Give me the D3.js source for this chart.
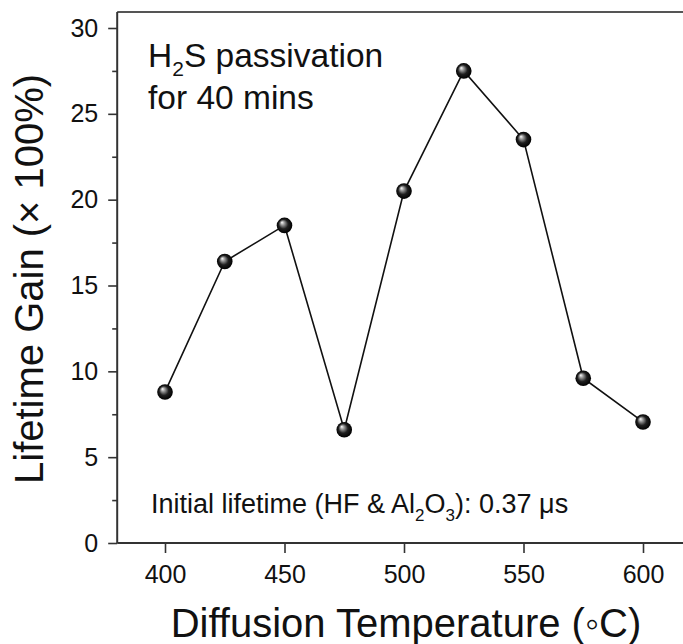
<!DOCTYPE html>
<html><head><meta charset="utf-8">
<script src="https://cdn.jsdelivr.net/npm/d3@7"></script>
<style>html,body{margin:0;padding:0;background:#fff;overflow:hidden}svg{display:block}</style>
</head><body>
<script>
const temperatures = [400, 425, 450, 475, 500, 525, 550, 575, 600];
const gains = [8.8, 16.4, 18.5, 6.6, 20.5, 27.5, 23.5, 9.6, 7.05];
const xTicks = [400, 450, 500, 550, 600];
const yTicks = [0, 5, 10, 15, 20, 25, 30];
const yMinorTicks = [2.5, 7.5, 12.5, 17.5, 22.5, 27.5];

(function () {
const W = 683, H = 644;
const svg = d3.select("body").append("svg").attr("width", W).attr("height", H);
const font = "'Liberation Sans', Arial, sans-serif";

const x = d3.scaleLinear().domain([380, 620]).range([117.2, 690.8]);
const y = d3.scaleLinear().domain([0, 30]).range([543, 28]);
const frameTop = 12;

const defs = svg.append("defs");
const grad = defs.append("radialGradient").attr("id", "ball")
  .attr("cx", "0.5").attr("cy", "0.5").attr("r", "0.5")
  .attr("fx", "0.33").attr("fy", "0.3");
grad.append("stop").attr("offset", "0").attr("stop-color", "#ffffff");
grad.append("stop").attr("offset", "0.25").attr("stop-color", "#9a9a9a");
grad.append("stop").attr("offset", "0.6").attr("stop-color", "#202020");
grad.append("stop").attr("offset", "1").attr("stop-color", "#000000");

// frame top line
svg.append("line").attr("x1", x(380)).attr("x2", W).attr("y1", frameTop).attr("y2", frameTop)
  .attr("stroke", "#555").attr("stroke-width", 2);

// x axis
const xAxis = svg.append("g").attr("transform", `translate(0,${y(0)})`)
  .call(d3.axisBottom(x).tickValues(xTicks).tickSize(10).tickPadding(12).tickFormat(d3.format("d")));
xAxis.select(".domain").attr("d", `M${x(380)},0H${W}`).attr("stroke", "#333").attr("stroke-width", 2);

// y axis
const yAxis = svg.append("g").attr("transform", `translate(${x(380)},0)`)
  .call(d3.axisLeft(y).tickValues(yTicks).tickSize(9).tickPadding(10).tickFormat(d3.format("d")));
yAxis.select(".domain").attr("d", `M0,${frameTop}V${y(0)}`).attr("stroke", "#333").attr("stroke-width", 2);
const yMinor = svg.append("g").attr("transform", `translate(${x(380)},0)`)
  .call(d3.axisLeft(y).tickValues(yMinorTicks).tickSize(5).tickFormat(""));
yMinor.select(".domain").remove();

svg.selectAll(".tick line").attr("stroke", "#333").attr("stroke-width", 1.6);
svg.selectAll(".tick text").attr("font-family", font).attr("font-size", 25).attr("fill", "#111");

// line
const line = d3.line().x((d, i) => x(temperatures[i])).y(d => y(d));
svg.append("path").datum(gains).attr("d", line).attr("fill", "none")
  .attr("stroke", "#111").attr("stroke-width", 1.6);

svg.selectAll("circle.pt").data(gains).enter().append("circle")
  .attr("class", "pt").attr("cx", (d, i) => x(temperatures[i])).attr("cy", d => y(d))
  .attr("r", 7.8).attr("fill", "url(#ball)");

// axis titles
svg.append("text").attr("x", 406).attr("y", 637).attr("text-anchor", "middle")
  .attr("font-family", font).attr("font-size", 40).attr("fill", "#111")
  .text("Diffusion Temperature (\u25E6C)");
svg.append("text").attr("transform", `translate(43,484) rotate(-90)`)
  .attr("text-anchor", "start").attr("font-family", font).attr("font-size", 40).attr("fill", "#111")
  .text("Lifetime Gain (\u00D7 100%)");

// annotations
const a1 = svg.append("text").attr("x", 148).attr("y", 67).attr("font-family", font)
  .attr("font-size", 33.5).attr("fill", "#111");
a1.append("tspan").text("H");
a1.append("tspan").attr("font-size", 21).attr("dy", 9).text("2");
a1.append("tspan").attr("dy", -9).text("S passivation");
svg.append("text").attr("x", 148).attr("y", 109).attr("font-family", font)
  .attr("font-size", 33.5).attr("fill", "#111").text("for 40 mins");

const a2 = svg.append("text").attr("x", 151).attr("y", 513).attr("font-family", font)
  .attr("font-size", 27).attr("fill", "#111");
a2.append("tspan").text("Initial lifetime (HF & Al");
a2.append("tspan").attr("font-size", 17).attr("dy", 8).text("2");
a2.append("tspan").attr("dy", -8).text("O");
a2.append("tspan").attr("font-size", 17).attr("dy", 8).text("3");
a2.append("tspan").attr("dy", -8).text("): 0.37 \u03BCs");
})();
</script>
</body></html>
